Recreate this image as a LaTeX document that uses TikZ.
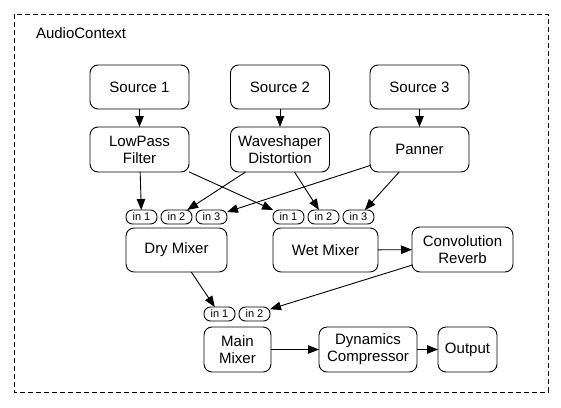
\documentclass[tikz,border=0pt]{standalone}
\usepackage{fontspec}
\setmainfont{Liberation Sans}
\usetikzlibrary{arrows.meta}
\begin{document}
\begin{tikzpicture}[x=1pt,y=-1pt,
  every node/.style={inner sep=0pt, outer sep=0pt},
  box/.style={draw, line width=0.9pt, rounded corners=8pt, align=center,
    font=\fontsize{15}{17}\selectfont},
  pill/.style={draw, line width=0.9pt, rounded corners=6.5pt,
    minimum width=31pt, minimum height=14pt, font=\fontsize{11}{12}\selectfont},
  wire/.style={line width=0.9pt, -{Triangle[length=11pt,width=8.5pt]}},
  frame/.style={line width=0.9pt, dash pattern=on 5pt off 3pt}]
\useasboundingbox (0,0) rectangle (561,407);
\draw[frame] (14,14) rectangle (548,392);
\node[anchor=west, font=\fontsize{15}{17}\selectfont] (ctx) at (36,33) {AudioContext};

% sources
\node[box, minimum width=99pt, minimum height=44pt] (s1) at (139.5,87) {Source 1};
\node[box, minimum width=99pt, minimum height=44pt] (s2) at (280,87) {Source 2};
\node[box, minimum width=99pt, minimum height=44pt] (s3) at (419.5,87) {Source 3};

% effects
\node[box, minimum width=99pt, minimum height=45pt] (f1) at (139.5,149.5) {LowPass\\Filter};
\node[box, minimum width=99pt, minimum height=45pt] (f2) at (280,149.5) {Waveshaper\\Distortion};
\node[box, minimum width=99pt, minimum height=45pt] (f3) at (419.5,149.5) {Panner};

% dry mixer and its inputs
\node[pill] (d1) at (141.5,217) {in 1};
\node[pill] (d2) at (176.5,217) {in 2};
\node[pill] (d3) at (211.5,217) {in 3};
\node[box, minimum width=101pt, minimum height=44pt] (dry) at (176.5,250) {Dry Mixer};

% wet mixer and its inputs
\node[pill] (w1) at (288.5,217) {in 1};
\node[pill] (w2) at (323.5,217) {in 2};
\node[pill] (w3) at (358.5,217) {in 3};
\node[box, minimum width=105pt, minimum height=44pt] (wet) at (325.5,250) {Wet Mixer};

\node[box, minimum width=101pt, minimum height=45pt] (rev) at (462.5,249.5) {Convolution\\Reverb};

% main chain
\node[pill] (m1) at (219.5,314) {in 1};
\node[pill] (m2) at (254.5,314) {in 2};
\node[box, minimum width=67pt, minimum height=45pt] (main) at (237.5,349.5) {Main\\Mixer};
\node[box, minimum width=98pt, minimum height=45pt] (comp) at (368,349.5) {Dynamics\\Compressor};
\node[box, minimum width=59pt, minimum height=45pt] (out) at (467.5,349.5) {Output};

% connections
\draw[wire] (s1) -- (f1);
\draw[wire] (s2) -- (f2);
\draw[wire] (s3) -- (f3);
\draw[wire] (f1) -- (d1);
\draw[wire] (f1) -- (w1);
\draw[wire] (f2) -- (d2);
\draw[wire] (f2) -- (w2);
\draw[wire] (f3) -- (d3);
\draw[wire] (f3) -- (w3);
\draw[wire] (wet) -- (rev);
\draw[wire] (dry) -- (m1);
\draw[wire] (rev) -- (m2);
\draw[wire] (main) -- (comp);
\draw[wire] (comp) -- (out);
\end{tikzpicture}
\end{document}
